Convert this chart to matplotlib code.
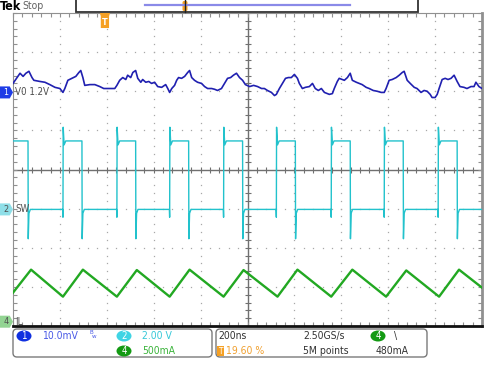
import numpy as np
import matplotlib.pyplot as plt
from matplotlib.patches import FancyBboxPatch, Polygon, Ellipse, Rectangle
from matplotlib.transforms import blended_transform_factory

plt.rcParams["font.family"] = "DejaVu Sans"
plt.rcParams["font.stretch"] = "condensed"

# scope settings
T_SPAN = 2000.0      # ns on screen, 200 ns/div
TRIG_T = 392.0       # trigger at 19.6 % of the record
CH1_SCALE = 10.0     # mV/div
CH2_SCALE = 2.0      # V/div
CH4_SCALE = 500.0    # mA/div
CH1_POS = 1.97       # div
CH2_POS = -1.02
CH4_POS = -3.89

# CH1: output ripple (mV, AC around 1.2 V), time in ns from left of screen
vo_t = [0, 17, 30, 43, 55, 68, 81, 89, 115, 136, 157, 179, 200, 213, 221, 234,
        251, 268, 281, 289, 298, 306, 328, 349, 370, 387, 413, 434, 443, 455,
        468, 481, 489, 502, 511, 523, 532, 545, 553, 566, 579, 591, 604, 617,
        634, 651, 660, 668, 677, 689, 698, 706, 719, 732, 745, 753, 762, 774,
        787, 804, 817, 830, 847, 860, 872, 889, 902, 915, 928, 940, 953, 966,
        979, 991, 1009, 1026, 1043, 1060, 1072, 1085, 1102, 1115, 1123, 1136,
        1149, 1162, 1174, 1187, 1200, 1213, 1221, 1234, 1247, 1264, 1277, 1289,
        1302, 1315, 1328, 1349, 1362, 1370, 1383, 1391, 1404, 1413, 1426, 1438,
        1447, 1464, 1477, 1489, 1506, 1519, 1536, 1553, 1570, 1583, 1591, 1604,
        1617, 1634, 1647, 1660, 1668, 1681, 1694, 1711, 1723, 1740, 1753, 1766,
        1779, 1787, 1800, 1809, 1817, 1830, 1843, 1855, 1868, 1881, 1894, 1906,
        1923, 1936, 1953, 1966, 1974, 1987, 2000]
vo_mv = [2.3, 3.8, 4.9, 4.1, 4.9, 5.4, 3.8, 3.1, 2.8, 2.6, 2.0, 1.3, 1.0, 0.0,
         1.0, 3.1, 3.6, 4.1, 5.1, 5.6, 3.8, 1.8, 2.0, 2.0, 1.5, 1.0, 1.0, 1.0,
         1.8, 3.1, 3.8, 3.3, 4.4, 3.8, 5.1, 5.6, 3.6, 2.6, 3.3, 2.6, 2.8, 2.3,
         2.6, 1.5, 1.3, 2.0, 1.0, 0.0, 1.0, 1.8, 3.1, 3.8, 3.6, 4.1, 5.1, 5.6,
         3.8, 3.1, 2.6, 2.3, 1.5, 1.0, 1.0, 0.8, 0.5, 1.0, 2.3, 3.6, 3.8, 4.4,
         4.9, 3.8, 3.1, 2.0, 1.5, 1.8, 1.5, 1.0, 1.0, 0.5, 0.0, -0.8, -0.5,
         1.0, 2.3, 3.6, 3.8, 3.8, 4.6, 3.6, 2.3, 1.0, 1.3, 1.5, 2.3, 1.0, 0.5,
         1.0, 0.0, -0.5, -0.3, 1.0, 2.8, 3.6, 3.3, 3.1, 3.8, 4.9, 3.1, 2.6,
         2.3, 2.0, 1.3, 1.0, 0.5, 0.3, 0.0, 0.0, 1.0, 3.1, 3.3, 3.8, 4.4, 5.1,
         5.4, 3.1, 2.3, 1.3, 1.0, 0.0, 0.5, 0.3, -0.5, -1.3, -1.3, -0.5, 1.0,
         3.3, 3.6, 3.3, 3.6, 4.4, 2.8, 1.5, 1.3, 1.0, 1.5, 1.5, 2.6, 1.5, 1.0]

# CH2: switch node, edges in ns and levels in V
sw_rise = [213, 443, 668, 898, 1123, 1357, 1583, 1813]
sw_fall = [64, 294, 523, 749, 979, 1204, 1438, 1664, 1894]
SW_HIGH = 3.5
SW_OVER = 4.2
SW_UNDER = -1.5

# CH4: inductor current (mA)
il_t = [0, 77, 213, 298, 443, 528, 668, 753, 898, 983, 1128, 1213, 1357,
        1447, 1591, 1677, 1817, 1902, 2000]
il_ma = [371, 665, 320, 665, 320, 660, 320, 665, 320, 660, 320, 665, 320,
         665, 320, 655, 320, 665, 435]

BLUE = "#2020b0"
CYAN = "#22c2cc"
GREEN = "#22a822"
GRID = "#a8a8a8"
AXIS = "#707070"

# build the switch node trace from its edges
sw_t, sw_v = [0.0], [SW_HIGH]
events = sorted([(t, "f") for t in sw_fall] + [(t, "r") for t in sw_rise])
for t, kind in events:
    if kind == "f":
        sw_t += [t, t + 1, t + 4, t + 10]
        sw_v += [SW_HIGH, SW_UNDER, -0.2, 0.0]
    else:
        sw_t += [t - 1, t, t + 1, t + 5, t + 12]
        sw_v += [0.0, -0.4, SW_OVER, 3.3, SW_HIGH]
sw_t.append(T_SPAN)
sw_v.append(0.0)

fig = plt.figure(figsize=(5, 3.75), dpi=100)
ax = fig.add_axes([13 / 500, 49 / 375, 469 / 500, 313 / 375])
ax.set_xlim(0, T_SPAN)
ax.set_ylim(-4, 4)

# graticule
ydots = np.arange(-4, 4.001, 0.2)
xdots = np.arange(0, T_SPAN + 1, 40)
for k in range(1, 10):
    if k != 5:
        ax.plot(np.full(len(ydots), k * 200), ydots, ls="none", marker="s",
                ms=0.9, mew=0, color=GRID, zorder=1)
for j in range(-3, 4):
    if j != 0:
        ax.plot(xdots, np.full(len(xdots), j), ls="none", marker="s",
                ms=0.9, mew=0, color=GRID, zorder=1)
ax.axhline(0, color=AXIS, lw=1.0, zorder=1)
ax.axvline(T_SPAN / 2, color=AXIS, lw=1.0, zorder=1)
ax.plot(xdots, np.zeros(len(xdots)), ls="none", marker="|", ms=5, mew=0.8,
        color=AXIS, zorder=1)
ax.plot(np.full(len(ydots), T_SPAN / 2), ydots, ls="none", marker="_", ms=5,
        mew=0.8, color=AXIS, zorder=1)

ax.set_xticks(np.arange(0, T_SPAN + 1, 200))
ax.set_xticks(xdots, minor=True)
ax.set_yticks(np.arange(-4, 5, 1))
ax.set_yticks(ydots, minor=True)
ax.tick_params(which="both", direction="in", length=3, width=0.8, color="#909090",
               top=True, right=True, labelbottom=False, labelleft=False)
for side in ["left", "top"]:
    ax.spines[side].set_color("#909090")
    ax.spines[side].set_linewidth(0.8)
ax.spines["right"].set_color("#909090")
ax.spines["right"].set_linewidth(2.0)
ax.spines["bottom"].set_color("#111111")
ax.spines["bottom"].set_linewidth(2.0)

# traces
ax.plot(vo_t, CH1_POS + np.array(vo_mv) / CH1_SCALE, color=BLUE, lw=1.2, zorder=3)
ax.plot(sw_t, CH2_POS + np.array(sw_v) / CH2_SCALE, color=CYAN, lw=1.0, zorder=3)
ax.plot(il_t, CH4_POS + np.array(il_ma) / CH4_SCALE, color=GREEN, lw=1.7, zorder=3)

# channel ground markers on the left edge
ytr = ax.get_yaxis_transform()
w = 13 / 469
h = 6 / 39.1
for pos, face, tc, num, label in [(CH1_POS, "#1e3ce6", "white", "1", "V0 1.2V"),
                                  (CH2_POS, "#8fdfe8", "#505050", "2", "SW"),
                                  (CH4_POS, "#93d493", "#505050", "4", "IL")]:
    ax.add_patch(Polygon([(-w, pos - h), (-w * 0.25, pos - h), (0, pos),
                          (-w * 0.25, pos + h), (-w, pos + h)], closed=True,
                         transform=ytr, facecolor=face, edgecolor="none",
                         clip_on=False, zorder=5))
    ax.text(-w * 0.55, pos, num, transform=ytr, ha="center", va="center",
            fontsize=6.5, color=tc, clip_on=False, zorder=6)
    ax.text(0.004, pos, label, transform=ytr, ha="left", va="center",
            fontsize=7, color="#505050", zorder=6)

# trigger position tag
xtr = blended_transform_factory(ax.transData, ax.transAxes)
tw = 22
ax.add_patch(Polygon([(TRIG_T - tw, 1.0), (TRIG_T + tw, 1.0), (TRIG_T + tw * 0.8, 0.99),
                      (TRIG_T + tw * 0.8, 0.952), (TRIG_T - tw * 0.8, 0.952),
                      (TRIG_T - tw * 0.8, 0.99)], closed=True, transform=xtr,
                     facecolor="#f5a024", edgecolor="none", zorder=5))
ax.text(TRIG_T, 0.971, "T", transform=xtr, ha="center", va="center",
        fontsize=6.5, color="white", fontweight="bold", zorder=6)

# screen chrome in pixel coordinates
ov = fig.add_axes([0, 0, 1, 1])
ov.set_xlim(0, 500)
ov.set_ylim(375, 0)
ov.axis("off")

ov.text(0, 6, "Tek", fontsize=9, fontweight="bold", va="center", color="black",
        fontstretch="condensed")
ov.text(22, 6, "Stop", fontsize=7.5, va="center", color="#606060")
ov.add_patch(Rectangle((76, -2), 342, 14, facecolor="white", edgecolor="#333333", lw=1.3))
ov.plot([145, 350], [5, 5], color="#8a8ae8", lw=1.6)
ov.add_patch(FancyBboxPatch((182.5, 1), 5, 10, boxstyle="round,pad=0,rounding_size=1.5",
                            facecolor="#f5a024", edgecolor="none"))
ov.plot([185, 185], [0, 12], color="#222222", lw=1.0)

ov.add_patch(FancyBboxPatch((13, 329), 199, 28, boxstyle="round,pad=0,rounding_size=4",
                            facecolor="white", edgecolor="#7a7a7a", lw=1.0))
ov.add_patch(FancyBboxPatch((216, 329), 211, 28, boxstyle="round,pad=0,rounding_size=4",
                            facecolor="white", edgecolor="#7a7a7a", lw=1.0))


def badge(x, y, num, face):
    ov.add_patch(Ellipse((x, y), 15, 11, facecolor=face, edgecolor="none"))
    ov.text(x, y + 0.3, num, ha="center", va="center", fontsize=7, color="white")


badge(24, 336, "1", "#1030e0")
ov.text(42, 336, "10.0mV", fontsize=7.5, va="center", color="#4a5ae6")
ov.text(89, 333, "B", fontsize=4.5, va="center", color="#4a5ae6")
ov.text(92, 337, "w", fontsize=4.5, va="center", color="#4a5ae6")
badge(124, 336, "2", "#3fd4e4")
ov.text(142, 336, "2.00 V", fontsize=7.5, va="center", color="#36c8d8")
badge(124, 351, "4", "#139a13")
ov.text(142, 351, "500mA", fontsize=7.5, va="center", color="#3cb43c")

ov.text(218, 336, "200ns", fontsize=7.5, va="center", color="#333333")
ov.text(303, 336, "2.50GS/s", fontsize=7.5, va="center", color="#333333")
badge(378, 336, "4", "#139a13")
ov.text(394, 336, "\\", fontsize=7.5, va="center", color="#333333")
ov.add_patch(Rectangle((216.5, 346), 7, 10, facecolor="#f5a024", edgecolor="none"))
ov.text(220, 351, "T", fontsize=6, ha="center", va="center", color="white")
ov.text(226, 351, "19.60 %", fontsize=7.5, va="center", color="#f0a030")
ov.text(303, 351, "5M points", fontsize=7.5, va="center", color="#333333")
ov.text(376, 351, "480mA", fontsize=7.5, va="center", color="#333333")

fig.savefig("out.png", dpi=100)
